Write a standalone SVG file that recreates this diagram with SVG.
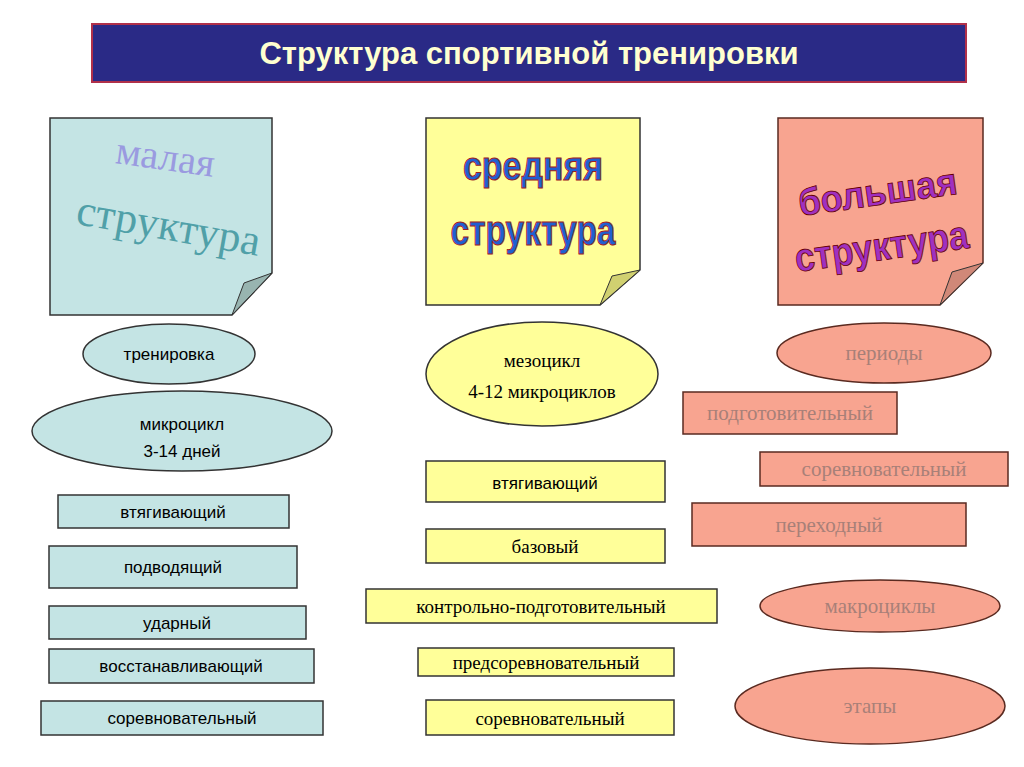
<svg xmlns="http://www.w3.org/2000/svg" width="1024" height="767" viewBox="0 0 1024 767">
<style>
.b{fill:#c4e4e4;stroke:#333;stroke-width:1.5}
.y{fill:#ffff99;stroke:#333;stroke-width:1.5}
.s{fill:#f8a490;stroke:#5a2a20;stroke-width:1.5}
.t{font-family:"Liberation Sans",Arial,sans-serif;font-size:17px;fill:#000;text-anchor:middle}
.ts{font-family:"Liberation Serif","Times New Roman",serif;font-size:19px;text-anchor:middle}
.tr{font-family:"Liberation Serif","Times New Roman",serif;font-size:21px;fill:#a88078;text-anchor:middle}
</style>
<rect width="1024" height="767" fill="#fff"/>
<g id="title"><rect x="92" y="24" width="874" height="58" fill="#2a2a86" stroke="#b0304a" stroke-width="2"/>
<text x="529" y="64" font-family="Liberation Sans,Arial,sans-serif" font-size="31" font-weight="bold" fill="#ffffd0" text-anchor="middle">Структура спортивной тренировки</text></g>
<g id="note1"><path d="M50 118H272V273L232 315H50Z" class="b"/><path d="M232 315L244 283L272 273Z" fill="#98b4b0" stroke="#333"/>
<text x="165" y="170" transform="rotate(8 165 160)" font-family="Liberation Serif,serif" font-size="40" fill="#9a9ae0" text-anchor="middle">малая</text>
<text x="168" y="240" transform="rotate(10 168 230)" font-family="Liberation Serif,serif" font-size="44" fill="#50a0a8" text-anchor="middle">структура</text></g>
<g id="note2"><path d="M426 118H640V270L600 305H426Z" class="y"/><path d="M600 305L612 276L640 270Z" fill="#d0d070" stroke="#333"/>
<text x="533" y="180" font-family="Liberation Sans,sans-serif" font-size="40" font-weight="bold" fill="#2060d0" stroke="#a02020" stroke-width="1" text-anchor="middle" textLength="140" lengthAdjust="spacingAndGlyphs">средняя</text>
<text x="533" y="245" font-family="Liberation Sans,sans-serif" font-size="42" font-weight="bold" fill="#2060d0" stroke="#a02020" stroke-width="1" text-anchor="middle" textLength="165" lengthAdjust="spacingAndGlyphs">структура</text></g>
<g id="note3"><path d="M778 118H983V263L940 305H778Z" class="s"/><path d="M940 305L952 272L983 263Z" fill="#d08878" stroke="#333"/>
<text x="878" y="205" transform="rotate(-8 878 195)" font-family="Liberation Sans,sans-serif" font-size="38" font-weight="bold" fill="#a030c0" stroke="#600" stroke-width="0.8" text-anchor="middle" textLength="160" lengthAdjust="spacingAndGlyphs">большая</text>
<text x="882" y="260" transform="rotate(-8 882 250)" font-family="Liberation Sans,sans-serif" font-size="40" font-weight="bold" fill="#a030c0" stroke="#600" stroke-width="0.8" text-anchor="middle" textLength="175" lengthAdjust="spacingAndGlyphs">структура</text></g>
<g id="left">
<ellipse cx="169" cy="354" rx="86" ry="30" class="b"/><text x="169" y="360" class="t">тренировка</text>
<ellipse cx="182" cy="431" rx="150" ry="40" class="b"/><text x="182" y="430" class="t" font-size="19">микроцикл</text><text x="182" y="457" class="t" font-size="19">3-14 дней</text>
<rect x="58" y="495" width="231" height="33" class="b"/><text x="173" y="518" class="t">втягивающий</text>
<rect x="49" y="546" width="248" height="42" class="b"/><text x="173" y="573" class="t">подводящий</text>
<rect x="49" y="606" width="257" height="33" class="b"/><text x="177" y="629" class="t">ударный</text>
<rect x="49" y="649" width="265" height="34" class="b"/><text x="181" y="672" class="t">восстанавливающий</text>
<rect x="41" y="701" width="282" height="34" class="b"/><text x="182" y="724" class="t">соревновательный</text></g>
<g id="mid">
<ellipse cx="542" cy="374" rx="116" ry="52" class="y"/><text x="542" y="367" class="ts">мезоцикл</text><text x="542" y="398" class="ts">4-12 микроциклов</text>
<rect x="426" y="461" width="239" height="41" class="y"/><text x="545" y="489" class="t">втягивающий</text>
<rect x="426" y="529" width="239" height="34" class="y"/><text x="545" y="553" class="ts">базовый</text>
<rect x="366" y="589" width="351" height="34" class="y"/><text x="541" y="613" class="ts">контрольно-подготовительный</text>
<rect x="418" y="648" width="256" height="28" class="y"/><text x="546" y="669" class="ts">предсоревновательный</text>
<rect x="426" y="700" width="248" height="35" class="y"/><text x="550" y="725" class="ts">соревновательный</text></g>
<g id="right">
<ellipse cx="884" cy="353" rx="107" ry="30" class="s"/><text x="884" y="360" class="tr">периоды</text>
<rect x="683" y="392" width="214" height="42" class="s"/><text x="790" y="420" class="tr">подготовительный</text>
<rect x="760" y="452" width="248" height="34" class="s"/><text x="884" y="476" class="tr">соревновательный</text>
<rect x="692" y="503" width="274" height="43" class="s"/><text x="829" y="532" class="tr">переходный</text>
<ellipse cx="880" cy="606" rx="120" ry="26" class="s"/><text x="880" y="613" class="tr">макроциклы</text>
<ellipse cx="870" cy="706" rx="135" ry="38" class="s"/><text x="870" y="713" class="tr">этапы</text></g>
<g id="connectors"/>
</svg>
